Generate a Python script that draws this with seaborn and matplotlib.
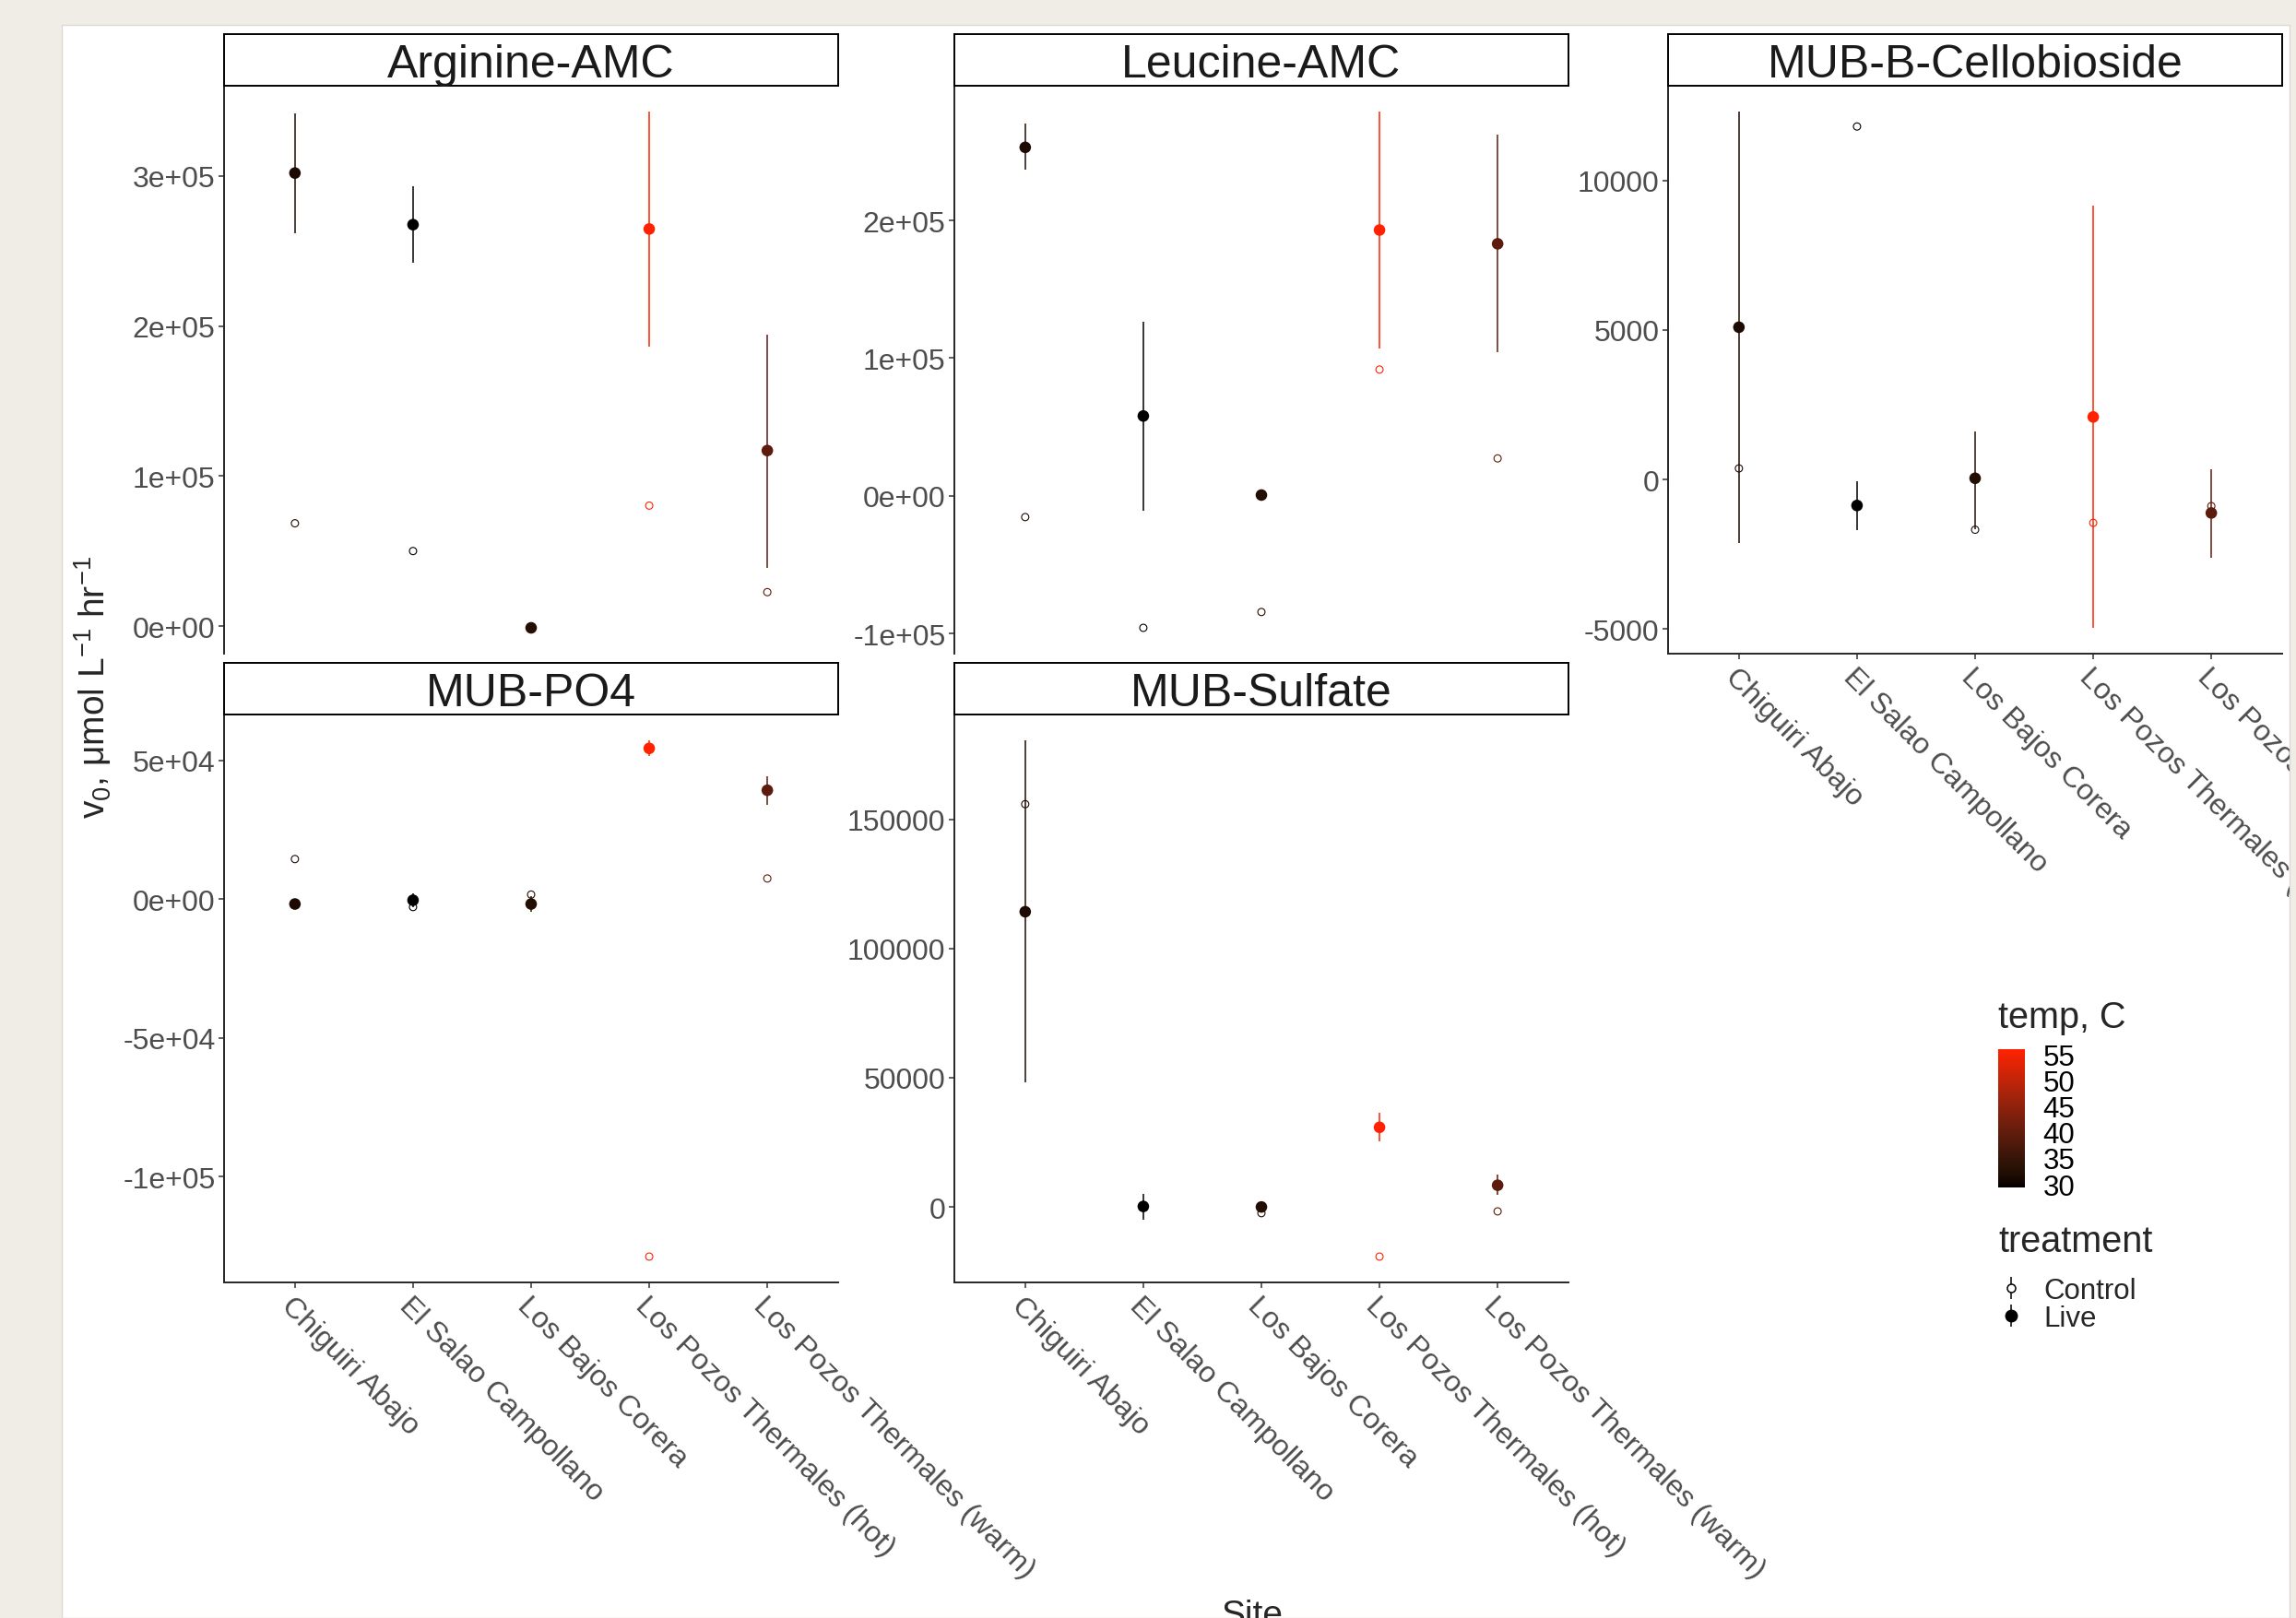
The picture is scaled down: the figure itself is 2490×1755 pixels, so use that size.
import numpy as np
import pandas as pd
import matplotlib
matplotlib.use("Agg")
import matplotlib.pyplot as plt
import seaborn as sns
from matplotlib.colors import ListedColormap, Normalize, to_rgb
from matplotlib.lines import Line2D
from matplotlib.legend_handler import HandlerTuple
from matplotlib.patches import Rectangle
from matplotlib.cm import ScalarMappable

sites = ["Chiguiri Abajo", "El Salao Campollano", "Los Bajos Corera",
         "Los Pozos Thermales (hot)", "Los Pozos Thermales (warm)"]
site_temp = [31.6, 29.3, 32.4, 56.0, 39.4]
substrates = ["Arginine-AMC", "Leucine-AMC", "MUB-B-Cellobioside", "MUB-PO4", "MUB-Sulfate"]

arginine_live = [302000, 267600, -1200, 264700, 117000]
arginine_lo = [262000, 242000, -1200, 186500, 39000]
arginine_hi = [342000, 293000, -1200, 343000, 194400]
arginine_control = [68500, 50000, -1000, 80300, 22600]

leucine_live = [253000, 58000, 600, 193000, 183000]
leucine_lo = [237000, -10600, 600, 107000, 104000]
leucine_hi = [270000, 126600, 600, 279000, 262500]
leucine_control = [-15400, -95800, -84300, 91700, 27200]

cello_live = [5090, -870, 40, 2090, -1120]
cello_lo = [-2110, -1700, -1650, -4960, -2610]
cello_hi = [12300, -70, 1590, 9170, 340]
cello_control = [370, 11800, -1680, -1450, -890]

po4_live = [-1800, -450, -1800, 54300, 39200]
po4_lo = [-1800, -2900, -4700, 51400, 34100]
po4_hi = [-1800, 2200, 900, 57200, 44400]
po4_control = [14400, -2900, 1600, -128900, 7400]

sulfate_live = [114200, 200, 0, 30800, 8400]
sulfate_lo = [48100, -4800, -1500, 25200, 4600]
sulfate_hi = [180500, 5000, 1500, 36300, 12500]
sulfate_control = [155800, 0, -2400, -19200, -1700]

arginine_ticks = [0, 100000, 200000, 300000]
leucine_ticks = [-100000, 0, 100000, 200000]
cello_ticks = [-5000, 0, 5000, 10000]
po4_ticks = [-100000, -50000, 0, 50000]
sulfate_ticks = [0, 50000, 100000, 150000]
temp_ticks = [30, 35, 40, 45, 50, 55]

W, H = 2490, 1756


def box(left, top, width, height):
    return [left / W, 1 - (top + height) / H, width / W, height / H]


# black -> red gradient interpolated in Lab space (like ggplot's scale_colour_gradient)
M = np.array([[0.4124, 0.3576, 0.1805], [0.2126, 0.7152, 0.0722], [0.0193, 0.1192, 0.9505]])
WHITE = np.array([0.95047, 1.0, 1.08883])


def to_lab(c):
    c = np.asarray(to_rgb(c))
    lin = np.where(c <= 0.04045, c / 12.92, ((c + 0.055) / 1.055) ** 2.4)
    xyz = M @ lin / WHITE
    f = np.where(xyz > 0.008856, np.cbrt(xyz), 7.787 * xyz + 16 / 116)
    return np.array([116 * f[1] - 16, 500 * (f[0] - f[1]), 200 * (f[1] - f[2])])


def from_lab(lab):
    L, a, b = lab
    fy = (L + 16) / 116
    f = np.array([fy + a / 500, fy, fy - b / 200])
    xyz = np.where(f > 0.2069, f ** 3, (f - 16 / 116) / 7.787) * WHITE
    lin = np.clip(np.linalg.inv(M) @ xyz, 0, None)
    c = np.where(lin <= 0.0031308, 12.92 * lin, 1.055 * lin ** (1 / 2.4) - 0.055)
    return np.clip(c, 0, 1)


lo_lab, hi_lab = to_lab("black"), to_lab("#FF2200")
cmap = ListedColormap([from_lab(lo_lab + t * (hi_lab - lo_lab)) for t in np.linspace(0, 1, 256)])
norm = Normalize(min(site_temp), max(site_temp))

values = {
    "Arginine-AMC": (arginine_live, arginine_lo, arginine_hi, arginine_control, arginine_ticks),
    "Leucine-AMC": (leucine_live, leucine_lo, leucine_hi, leucine_control, leucine_ticks),
    "MUB-B-Cellobioside": (cello_live, cello_lo, cello_hi, cello_control, cello_ticks),
    "MUB-PO4": (po4_live, po4_lo, po4_hi, po4_control, po4_ticks),
    "MUB-Sulfate": (sulfate_live, sulfate_lo, sulfate_hi, sulfate_control, sulfate_ticks),
}
sci_fmt = {"Arginine-AMC", "Leucine-AMC", "MUB-PO4"}

rows = []
for sub, (live, lo, hi, ctrl, _) in values.items():
    for i, site in enumerate(sites):
        rows.append(dict(substrate=sub, site=site, pos=i, temp=site_temp[i],
                         treatment="Live", v=live[i], lo=lo[i], hi=hi[i]))
        rows.append(dict(substrate=sub, site=site, pos=i, temp=site_temp[i],
                         treatment="Control", v=ctrl[i], lo=np.nan, hi=np.nan))
df = pd.DataFrame(rows)

sns.set_style("ticks")
plt.rcParams["font.family"] = ["Liberation Sans", "DejaVu Sans"]
plt.rcParams["mathtext.fontset"] = "custom"
plt.rcParams["mathtext.rm"] = "Liberation Sans"
plt.rcParams["mathtext.it"] = "Liberation Sans"
plt.rcParams["mathtext.default"] = "regular"

fig = plt.figure(figsize=(W / 100, H / 100), dpi=100, facecolor="#F0EDE6")
page = Rectangle((67 / W, 0), (2483 - 67) / W, 1 - 28 / H, transform=fig.transFigure,
                 facecolor="white", edgecolor="#DCD9D2", lw=1, zorder=-10)
fig.add_artist(page)

col_left = [243, 1035, 1809]
row_top = [94, 776]
grid = {"Arginine-AMC": (0, 0), "Leucine-AMC": (1, 0), "MUB-B-Cellobioside": (2, 0),
        "MUB-PO4": (0, 1), "MUB-Sulfate": (1, 1)}
has_xaxis = {"MUB-B-Cellobioside", "MUB-PO4", "MUB-Sulfate"}
PW, PH = 666, 616

for sub in substrates:
    col, row = grid[sub]
    ax = fig.add_axes(box(col_left[col], row_top[row], PW, PH))
    d = df[df.substrate == sub]
    live = d[d.treatment == "Live"]
    ctrl = d[d.treatment == "Control"]
    ax.vlines(live.pos, live.lo, live.hi, colors=cmap(norm(live.temp)), lw=1.1, zorder=2)
    sns.scatterplot(data=live, x="pos", y="v", hue="temp", palette=cmap, hue_norm=norm,
                    s=82, linewidth=0, legend=False, ax=ax, zorder=3)
    sns.scatterplot(data=ctrl, x="pos", y="v", hue="temp", palette=cmap, hue_norm=norm,
                    s=32, linewidth=0.8, legend=False, ax=ax, zorder=4)
    pts = ax.collections[-1]
    pts.set_edgecolors(pts.get_facecolors())
    pts.set_facecolors("none")

    ticks = values[sub][4]
    ax.set_yticks(ticks)
    if sub in sci_fmt:
        ax.set_yticklabels([f"{t:.0e}" for t in ticks])
    else:
        ax.set_yticklabels([f"{t:d}" for t in ticks])
    ax.set_xlim(-0.6, len(sites) - 0.4)
    ax.set_xticks(range(len(sites)))
    ax.set_xlabel("")
    ax.set_ylabel("")
    ax.tick_params(length=4.3, width=1.1, color="#333333", labelsize=23,
                   labelcolor="#4D4D4D", pad=2.5)
    ax.spines[["top", "right"]].set_visible(False)
    for s in ["left", "bottom"]:
        ax.spines[s].set_linewidth(1.4)
    if sub in has_xaxis:
        ax.set_xticklabels(sites, rotation=-45, ha="left", va="top", rotation_mode="anchor")
        for lbl in ax.get_xticklabels():
            lbl.set_clip_path(page)
    else:
        ax.spines["bottom"].set_visible(False)
        ax.tick_params(axis="x", bottom=False, labelbottom=False)

    sax = fig.add_axes(box(col_left[col], row_top[row] - 56, PW, 56))
    sax.set_xticks([])
    sax.set_yticks([])
    for s in sax.spines.values():
        s.set_visible(True)
        s.set_linewidth(1.4)
        s.set_color("black")
    sax.text(0.5, 0.18, sub, transform=sax.transAxes, ha="center", va="baseline",
             fontsize=36, color="#1A1A1A")

fig.text(101 / W, 1 - 746 / H, "v$_0$, μmol L$^{-1}$ hr$^{-1}$", rotation=90,
         ha="center", va="center", fontsize=28)
fig.text(1358 / W, 1 - 1735 / H, "Site", ha="center", va="top", fontsize=28)

# colour legend
cax = fig.add_axes(box(2167, 1139, 29, 150))
cb = fig.colorbar(ScalarMappable(norm=norm, cmap=cmap), cax=cax, ticks=temp_ticks)
cb.outline.set_visible(False)
cax.tick_params(direction="in", length=6, width=1, color="white", left=True, right=True,
                labelsize=22.5, labelcolor="black", pad=14)
fig.text(2167 / W, 1 - 1115 / H, "temp, C", ha="left", va="baseline", fontsize=28.5)

# treatment legend
fig.text(2167 / W, 1 - 1358 / H, "treatment", ha="left", va="baseline", fontsize=28.5)
ctrl_h = (Line2D([], [], color="black", marker="|", markersize=17, mew=1.1, linestyle="none"),
          Line2D([], [], marker="o", markerfacecolor="white", markeredgecolor="black",
                 markersize=6.5, mew=1.1, linestyle="none"))
live_h = (Line2D([], [], color="black", marker="|", markersize=17, mew=1.1, linestyle="none"),
          Line2D([], [], marker="o", color="black", markersize=9, linestyle="none"))
fig.legend([ctrl_h, live_h], ["Control", "Live"], handler_map={tuple: HandlerTuple(ndivide=1)},
           loc="upper left", bbox_to_anchor=(2167 / W, 1 - 1386 / H),
           frameon=False, fontsize=22.5, handlelength=0.9, handletextpad=0.67,
           borderpad=0, borderaxespad=0, labelspacing=0.0, numpoints=1)

fig.savefig("out.png", dpi=100, facecolor=fig.get_facecolor())
